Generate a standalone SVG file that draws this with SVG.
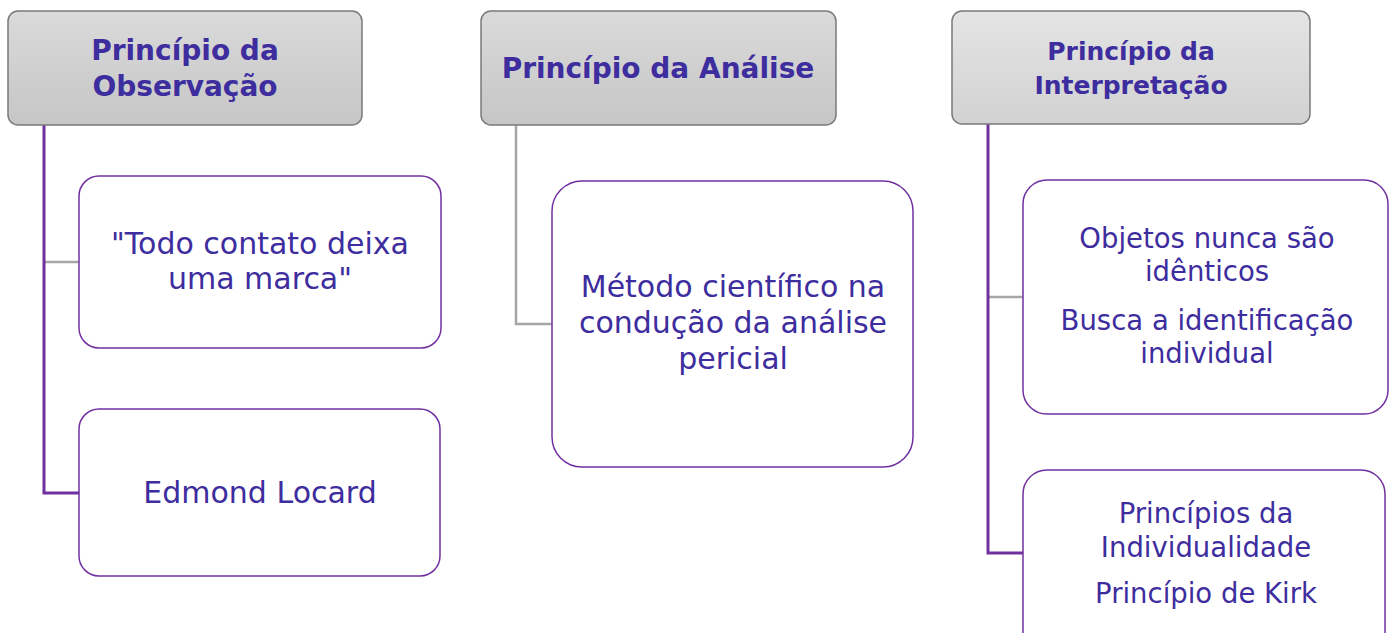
<svg xmlns="http://www.w3.org/2000/svg" width="1393" height="633" viewBox="0 0 1393 633">
<defs>
<linearGradient id="hg" x1="0" y1="0" x2="0" y2="1">
<stop offset="0" stop-color="#dadada"/>
<stop offset="1" stop-color="#c6c6c6"/>
</linearGradient>
<linearGradient id="hg3" x1="0" y1="0" x2="0" y2="1">
<stop offset="0" stop-color="#e4e4e4"/>
<stop offset="1" stop-color="#d2d2d2"/>
</linearGradient>
<style>
.hdr{fill:url(#hg);stroke:#7a7a7a;stroke-width:1.5}
.box{fill:#ffffff;stroke:#7030a0;stroke-width:1.5}
.ht{font-family:"DejaVu Sans",sans-serif;font-weight:bold;font-size:28px;fill:#3d2d9e;text-anchor:middle}
.bt{font-family:"DejaVu Sans",sans-serif;font-size:30px;fill:#3d2d9e;text-anchor:middle}
.bs{font-size:27.5px}
.cp{fill:none;stroke:#7030a0;stroke-width:3}
.cg{fill:none;stroke:#a6a6a6;stroke-width:2.5}
</style>
</defs>
<rect width="1393" height="633" fill="#ffffff"/>
<g id="connectors">
<path class="cg" d="M44 262 H79"/>
<path class="cp" d="M44 125 V493 H79"/>
<path class="cg" d="M516 125 V324 H552"/>
<path class="cg" d="M988 297 H1023"/>
<path class="cp" d="M988 124 V553 H1023"/>
</g>
<g id="h1">
<rect class="hdr" x="8" y="11" width="354" height="114" rx="10"/>
<text class="ht" x="185" y="60">Princípio da</text>
<text class="ht" x="185" y="96">Observação</text>
</g>
<g id="h2">
<rect class="hdr" x="481" y="11" width="355" height="114" rx="10"/>
<text class="ht" x="658" y="78">Princípio da Análise</text>
</g>
<g id="h3">
<rect class="hdr" x="952" y="11" width="358" height="113" rx="10" style="fill:url(#hg3)"/>
<text class="ht" x="1131" y="60" style="font-size:25px">Princípio da</text>
<text class="ht" x="1131" y="94" style="font-size:25px">Interpretação</text>
</g>
<g id="c1">
<rect class="box" x="79" y="176" width="362" height="172" rx="20"/>
<text class="bt" x="260" y="254">"Todo contato deixa</text>
<text class="bt" x="260" y="289">uma marca"</text>
</g>
<g id="c2">
<rect class="box" x="79" y="409" width="361" height="167" rx="20"/>
<text class="bt" x="260" y="503">Edmond Locard</text>
</g>
<g id="c3">
<rect class="box" x="552" y="181" width="361" height="286" rx="30"/>
<text class="bt" x="733" y="297">Método científico na</text>
<text class="bt" x="733" y="333">condução da análise</text>
<text class="bt" x="733" y="369">pericial</text>
</g>
<g id="c4">
<rect class="box" x="1023" y="180" width="365" height="234" rx="24"/>
<text class="bt bs" x="1207" y="248">Objetos nunca são</text>
<text class="bt bs" x="1207" y="281">idênticos</text>
<text class="bt bs" x="1207" y="330">Busca a identificação</text>
<text class="bt bs" x="1207" y="363">individual</text>
</g>
<g id="c5">
<rect class="box" x="1023" y="470" width="362" height="190" rx="24"/>
<text class="bt bs" x="1206" y="523">Princípios da</text>
<text class="bt bs" x="1206" y="557">Individualidade</text>
<text class="bt bs" x="1206" y="603">Princípio de Kirk</text>
</g>
</svg>
